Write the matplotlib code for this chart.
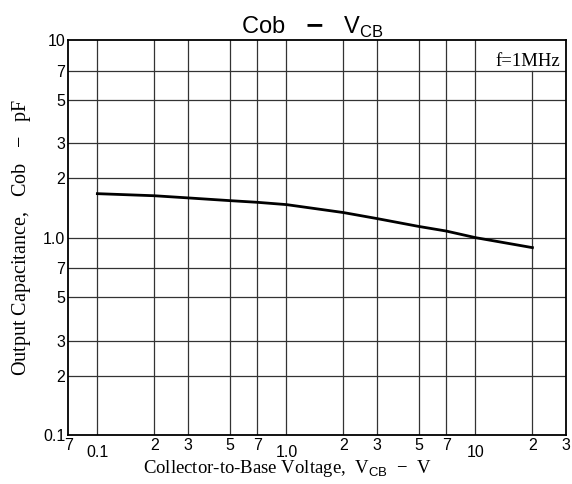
import numpy as np
import matplotlib
matplotlib.use("Agg")
import matplotlib.pyplot as plt

plt.rcParams['mathtext.fontset'] = 'custom'
plt.rcParams['mathtext.rm'] = 'Liberation Serif'
plt.rcParams['mathtext.sf'] = 'Liberation Sans'

# Cob vs VCB curve
vcb = [0.1, 0.2, 0.3, 0.5, 0.7, 1.0, 2, 3, 5, 7, 10, 20]
cob = [1.67, 1.63, 1.59, 1.54, 1.51, 1.47, 1.34, 1.25, 1.14, 1.08, 1.0, 0.89]

x_grid = [0.1, 0.2, 0.3, 0.5, 0.7, 1.0, 2, 3, 5, 7, 10]
x_major = [0.1, 1.0, 10]
x_major_labels = ['0.1', '1.0', '10']
x_minor = [0.07, 0.2, 0.3, 0.5, 0.7, 2, 3, 5, 7, 20, 30]
x_minor_labels = ['7', '2', '3', '5', '7', '2', '3', '5', '7', '2', '3']

y_grid = [0.2, 0.3, 0.5, 0.7, 1.0, 2, 3, 5, 7]
y_ticks = [0.1, 0.2, 0.3, 0.5, 0.7, 1.0, 2, 3, 5, 7, 10]
y_labels = ['0.1', '2', '3', '5', '7', '1.0', '2', '3', '5', '7', '10']

fig = plt.figure(figsize=(5.72, 4.84), dpi=100)
ax = fig.add_axes([0.119, 0.101, 0.870, 0.816])
ax.set_xscale('log')
ax.set_yscale('log')
ax.set_xlim(0.07, 30)
ax.set_ylim(0.1, 10)

# grid drawn by hand so the 20 V line can stop under the f=1MHz box
for xv in x_grid:
    ax.axvline(xv, color='#333333', lw=0.9, zorder=1)
ymax_20 = np.log10(7 / 0.1) / np.log10(10 / 0.1)
ax.axvline(20, ymax=ymax_20, color='#333333', lw=0.9, zorder=1)
for yv in y_grid:
    ax.axhline(yv, color='#333333', lw=0.9, zorder=1)

ax.plot(vcb, cob, color='black', lw=2, zorder=3)

ax.text(0.988, 0.968, 'f=1MHz', transform=ax.transAxes, ha='right', va='top',
        fontsize=13.5, family='Liberation Serif')

for s in ax.spines.values():
    s.set_linewidth(1.3)

ax.set_xticks(x_major)
ax.set_xticklabels(x_major_labels)
ax.set_xticks(x_minor, minor=True)
ax.set_xticklabels(x_minor_labels, minor=True)
ax.tick_params(axis='x', which='major', length=0, pad=7, labelsize=11.5)
ax.tick_params(axis='x', which='minor', length=0, pad=2, labelsize=11.5)

ax.set_yticks(y_ticks)
ax.set_yticklabels(y_labels)
ax.yaxis.set_minor_locator(matplotlib.ticker.NullLocator())
ax.tick_params(axis='y', length=0, pad=2, labelsize=11.5)
for lab in ax.get_xticklabels(which='both') + ax.get_yticklabels():
    lab.set_family('Liberation Sans')

ax.set_title('Cob   $\\mathbf{-}$   V$_\\mathsf{CB}$', fontsize=17,
             family='Liberation Sans', pad=3, x=0.49)
ax.set_xlabel('Collector-to-Base Voltage,  V$_\\mathsf{CB}$  $-$  V',
              family='Liberation Serif', fontsize=13.5, labelpad=-1, x=0.44)
ax.set_ylabel('Output Capacitance,   Cob   $-$   pF',
              family='Liberation Serif', fontsize=14.5, labelpad=7)

fig.savefig('out.png', dpi=100)
